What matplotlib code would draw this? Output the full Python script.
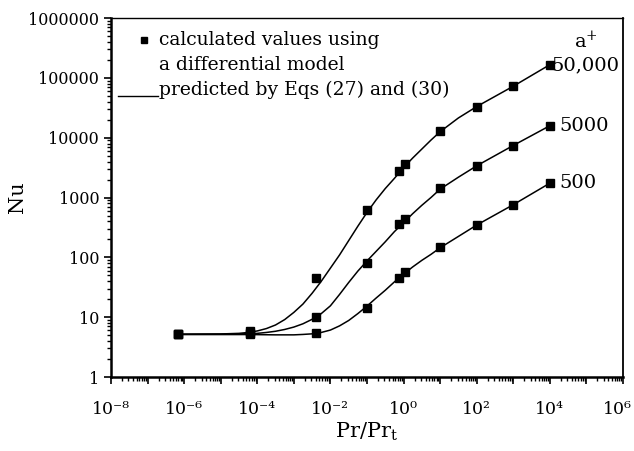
import numpy as np
import matplotlib
matplotlib.use("Agg")
import matplotlib.pyplot as plt
from matplotlib.ticker import LogLocator, FuncFormatter, NullFormatter
from matplotlib.lines import Line2D
from matplotlib.transforms import ScaledTranslation

plt.rcParams['font.family'] = ['DejaVu Serif']
plt.rcParams['mathtext.fontset'] = 'dejavuserif'

# ---- data ----
a_plus_labels = ["50,000", "5000", "500"]

pr_markers = [7e-7, 6.3e-5, 4e-3, 0.1, 0.75, 1.1, 10, 100, 1000, 1e4]
nu_50000 = [5.2, 5.9, 46, 610, 2800, 3700, 13000, 33000, 72000, 165000]
nu_5000 = [5.2, 5.5, 10.2, 81, 360, 440, 1450, 3400, 7400, 15900]
nu_500 = [5.2, 5.2, 5.5, 14.5, 46, 56, 150, 350, 760, 1750]

# predicted curves (log10 Pr/Prt, log10 Nu)
curve_logx_50000 = [-6.15, -5.0, -4.5, -4.25, -4.0, -3.75, -3.5, -3.25, -3.0, -2.75, -2.5, -2.25,
                    -2.0, -1.75, -1.5, -1.25, -1.0, -0.75, -0.5, -0.25, 0.0, 0.25, 0.5, 0.75,
                    1.0, 1.5, 2.0, 2.5, 3.0, 3.5, 4.0]
curve_logy_50000 = [0.715, 0.72, 0.73, 0.745, 0.77, 0.81, 0.87, 0.96, 1.08, 1.22, 1.40, 1.60,
                    1.82, 2.04, 2.28, 2.52, 2.75, 2.96, 3.15, 3.32, 3.50, 3.66, 3.81, 3.96,
                    4.10, 4.33, 4.52, 4.69, 4.86, 5.04, 5.22]
curve_logx_5000 = [-6.15, -5.0, -4.5, -4.0, -3.75, -3.5, -3.25, -3.0, -2.75, -2.5, -2.25,
                   -2.0, -1.75, -1.5, -1.25, -1.0, -0.75, -0.5, -0.25, 0.0, 0.25, 0.5, 0.75,
                   1.0, 1.5, 2.0, 2.5, 3.0, 3.5, 4.0]
curve_logy_5000 = [0.715, 0.716, 0.72, 0.73, 0.745, 0.765, 0.795, 0.835, 0.89, 0.965, 1.06,
                   1.19, 1.38, 1.58, 1.77, 1.94, 2.10, 2.26, 2.43, 2.58, 2.73, 2.87, 3.00,
                   3.14, 3.34, 3.53, 3.70, 3.87, 4.035, 4.20]
curve_logx_500 = [-6.15, -5.0, -4.2, -3.5, -3.0, -2.75, -2.5, -2.25, -2.0, -1.75, -1.5, -1.25,
                  -1.0, -0.75, -0.5, -0.25, 0.0, 0.25, 0.5, 0.75, 1.0, 1.5, 2.0, 2.5, 3.0,
                  3.5, 4.0]
curve_logy_500 = [0.71, 0.71, 0.71, 0.705, 0.705, 0.712, 0.722, 0.745, 0.785, 0.855, 0.945, 1.06,
                  1.185, 1.32, 1.45, 1.59, 1.72, 1.84, 1.95, 2.05, 2.16, 2.35, 2.54, 2.71, 2.88,
                  3.06, 3.24]

xlim = (1e-8, 1e6)
ylim = (1, 1e6)

fig = plt.figure(figsize=(6.34, 4.51), dpi=100)
ax = fig.add_axes([0.175, 0.164, 0.8076, 0.796])

curves = [(curve_logx_50000, curve_logy_50000),
          (curve_logx_5000, curve_logy_5000),
          (curve_logx_500, curve_logy_500)]
for cx, cy in curves:
    ax.plot(10 ** np.array(cx), 10 ** np.array(cy), color='black', lw=1.1, zorder=2,
            solid_joinstyle='round')

for vals, lab in zip([nu_50000, nu_5000, nu_500], a_plus_labels):
    ax.plot(pr_markers, vals, linestyle='none', marker='s', ms=5.5,
            color='black', zorder=3)
    dx = 1 if lab == "50,000" else 7
    ax.annotate(lab, xy=(pr_markers[-1], vals[-1]), xytext=(dx, 0),
                textcoords='offset points', ha='left', va='center',
                fontsize=14)

ax.text(0.904, 0.936, r'a$^{+}$', transform=ax.transAxes, fontsize=14,
        ha='left', va='center')

ax.set_xscale('log')
ax.set_yscale('log')
ax.set_xlim(*xlim)
ax.set_ylim(*ylim)

SUP = str.maketrans('-0123456789', '⁻⁰¹²³⁴⁵⁶⁷⁸⁹')
ax.xaxis.set_major_locator(LogLocator(base=10, numticks=30))
ax.xaxis.set_minor_locator(LogLocator(base=10, subs=np.arange(2, 10), numticks=30))
def xfmt(v, pos):
    e = int(round(np.log10(v)))
    return '10' + str(e).translate(SUP) if e % 2 == 0 else ''
ax.xaxis.set_major_formatter(FuncFormatter(xfmt))
ax.xaxis.set_minor_formatter(NullFormatter())

ax.yaxis.set_major_locator(LogLocator(base=10, numticks=30))
ax.yaxis.set_minor_locator(LogLocator(base=10, subs=np.arange(2, 10), numticks=30))
ax.yaxis.set_major_formatter(FuncFormatter(lambda v, p: '%d' % int(round(v))))
ax.yaxis.set_minor_formatter(NullFormatter())

ax.tick_params(which='major', direction='out', length=5, width=1.2, labelsize=11.5)
ax.tick_params(axis='x', which='major', labelsize=12.5, pad=12)
ax.tick_params(which='minor', direction='out', length=3, width=1.0)

ax.spines['left'].set_linewidth(1.8)
ax.spines['bottom'].set_linewidth(1.8)
ax.spines['right'].set_linewidth(1.3)
ax.spines['top'].set_linewidth(1.0)

ax.set_xlabel(r'Pr/Pr$_{\mathrm{t}}$', fontsize=15, labelpad=2)
ax.set_ylabel('Nu', fontsize=15)
ax.yaxis.set_label_coords(-0.164, 0.5)

# legend drawn manually
ax.add_line(Line2D([0.064], [0.939], transform=ax.transAxes, marker='s', ms=5,
                   color='black', linestyle='none'))
ax.text(0.094, 0.939, 'calculated values using', transform=ax.transAxes,
        fontsize=13.5, va='center', ha='left')
ax.text(0.094, 0.869, 'a differential model', transform=ax.transAxes,
        fontsize=13.5, va='center', ha='left')
ax.add_line(Line2D([0.014, 0.092], [0.783, 0.783], transform=ax.transAxes,
                   color='black', lw=1.0))
ax.text(0.094, 0.799, 'predicted by Eqs (27) and (30)', transform=ax.transAxes,
        fontsize=13.5, va='center', ha='left')

# nudge the right-most x tick label so it stays inside the figure
fig.canvas.draw()
for tick in ax.xaxis.get_major_ticks():
    if tick.label1.get_text() == '10' + '6'.translate(SUP):
        tick.label1.set_transform(tick.label1.get_transform() +
                                  ScaledTranslation(-4 / 72, 0, fig.dpi_scale_trans))

fig.savefig('out.png', dpi=100)
